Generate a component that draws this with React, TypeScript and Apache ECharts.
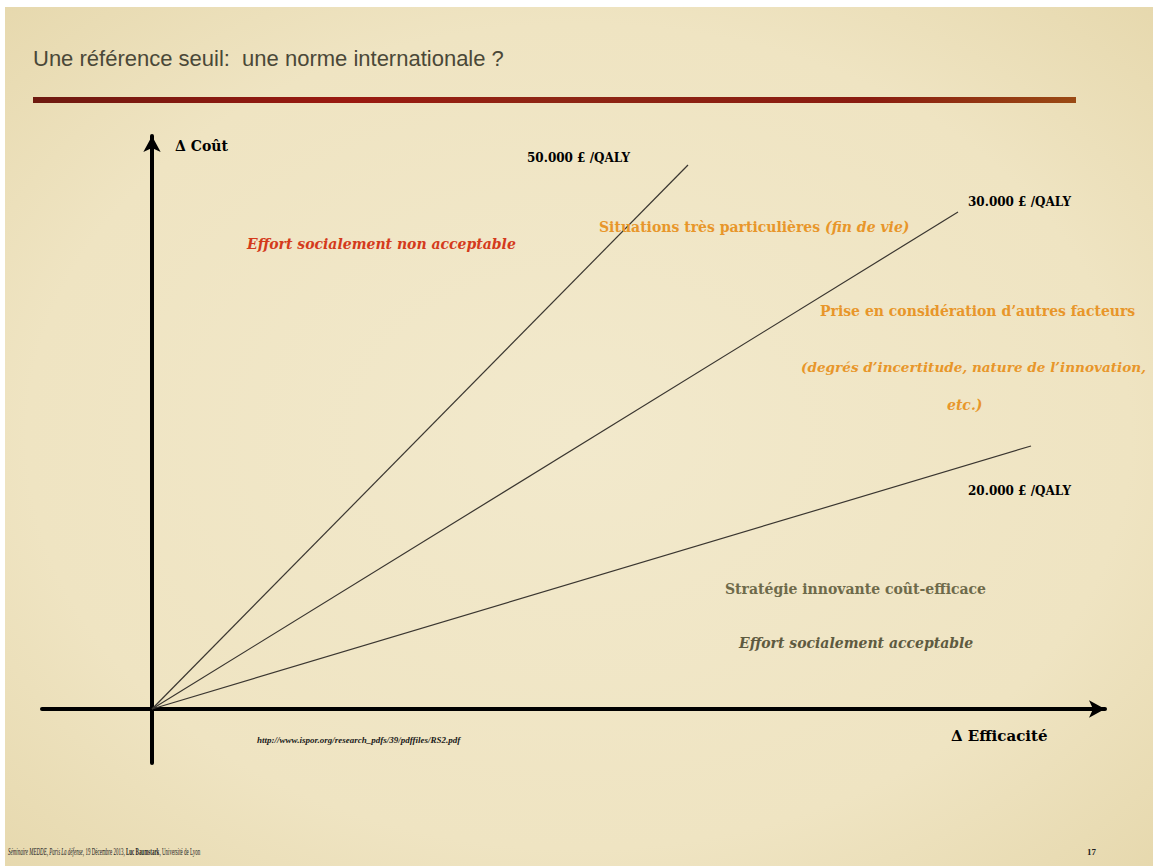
import React, { useEffect, useRef } from "react";
import * as echarts from "echarts";

// Threshold lines: end points in (Δ Efficacité, Δ Coût) units
const thresholdNames = ["50.000 £ /QALY", "30.000 £ /QALY", "20.000 £ /QALY"];
const thresholdEndX = [536, 806, 879];
const thresholdEndY = [544, 497, 263];

// Axis extents
const xRange = [-110, 953];
const yRange = [-54, 573];

const SERIF = "'DejaVu Serif', 'Liberation Serif', serif";
const TIMES = "'Liberation Serif', 'Times New Roman', serif";
const SANS = "'Liberation Sans', Arial, sans-serif";

export default function App() {
  const ref = useRef<HTMLDivElement>(null);
  useEffect(() => {
    if (!ref.current) return;
    const chart = echarts.init(ref.current, null, { renderer: "svg" });

    const series = thresholdNames.map((name, i) => ({
      name,
      type: "line",
      data: [
        [0, 0],
        [thresholdEndX[i], thresholdEndY[i]],
      ],
      symbol: "none",
      lineStyle: { color: "#3a3630", width: 1.2 },
      silent: true,
    }));

    const txt = (x: number, y: number, text: string, opts: any = {}, extra: any = {}) => ({
      type: "text",
      x,
      y,
      silent: true,
      z: 10,
      ...extra,
      style: {
        text,
        fontFamily: SERIF,
        fontSize: 13,
        fontWeight: "bold",
        fill: "#000",
        verticalAlign: "middle",
        ...opts,
      },
    });

    const orange = "#e8962a";
    const BODY = 14;

    const option: any = {
      animation: false,
      backgroundColor: "#ffffff",
      grid: { left: 42, right: 48, top: 136, bottom: 103 },
      xAxis: {
        type: "value",
        min: xRange[0],
        max: xRange[1],
        splitLine: { show: false },
        axisTick: { show: false },
        axisLabel: { show: false },
        axisLine: {
          onZero: true,
          symbol: ["none", "arrow"],
          symbolSize: [13, 16],
          lineStyle: { color: "#000", width: 4 },
        },
      },
      yAxis: {
        type: "value",
        min: yRange[0],
        max: yRange[1],
        splitLine: { show: false },
        axisTick: { show: false },
        axisLabel: { show: false },
        axisLine: {
          onZero: true,
          symbol: ["none", "arrow"],
          symbolSize: [13, 16],
          lineStyle: { color: "#000", width: 4 },
        },
      },
      series,
      graphic: [
        {
          type: "rect",
          z: -10,
          silent: true,
          shape: { x: 5, y: 7, width: 1148, height: 859 },
          style: {
            fill: new echarts.graphic.RadialGradient(0.5, 0.5, 0.8, [
              { offset: 0, color: "#f2e9cc" },
              { offset: 0.6, color: "#efe4c2" },
              { offset: 1, color: "#e3d4a6" },
            ]),
          },
        },
        {
          type: "rect",
          z: -5,
          silent: true,
          shape: { x: 33, y: 97, width: 1043, height: 6 },
          style: {
            fill: new echarts.graphic.LinearGradient(0, 0, 1, 0, [
              { offset: 0, color: "#6e1a10" },
              { offset: 0.3, color: "#9a1a10" },
              { offset: 0.5, color: "#8e2614" },
              { offset: 0.8, color: "#8a1c10" },
              { offset: 1, color: "#9a4a14" },
            ]),
          },
        },
        txt(33, 58, "Une référence seuil:  une norme internationale ?", {
          fontFamily: SANS,
          fontWeight: "normal",
          fontSize: 22,
          fill: "#4a4838",
        }),
        txt(175, 146, "Δ Coût", { fontSize: 14 }),
        txt(527, 158, thresholdNames[0], { fontSize: 12 }),
        txt(968, 202, thresholdNames[1], { fontSize: 12 }),
        txt(968, 491, thresholdNames[2], { fontSize: 12 }),
        txt(951, 736, "Δ Efficacité", { fontSize: 15 }),
        txt(247, 244, "Effort socialement non acceptable", {
          fontSize: BODY,
          fontStyle: "italic",
          fill: "#d43a1c",
        }),
        {
          type: "text",
          x: 599,
          y: 227,
          silent: true,
          z: 10,
          style: {
            text: "{a|Situations très particulières }{b|(fin de vie)}",
            verticalAlign: "middle",
            rich: {
              a: { fontFamily: SERIF, fontSize: BODY, fontWeight: "bold", fill: orange },
              b: { fontFamily: SERIF, fontSize: BODY, fontWeight: "bold", fontStyle: "italic", fill: orange },
            },
          },
        },
        txt(820, 311, "Prise en considération d’autres facteurs", {
          fontSize: BODY,
          fill: orange,
        }),
        txt(801, 367, "(degrés d’incertitude, nature de l’innovation,", {
          fontSize: 13.6,
          fontStyle: "italic",
          fill: orange,
        }),
        txt(947, 405, "etc.)", {
          fontSize: BODY,
          fontStyle: "italic",
          fill: orange,
        }),
        txt(725, 589, "Stratégie innovante coût-efficace", {
          fontSize: BODY,
          fill: "#6e6a4a",
        }),
        txt(739, 643, "Effort socialement acceptable", {
          fontSize: BODY,
          fontStyle: "italic",
          fill: "#5e5a40",
        }),
        txt(
          257,
          740,
          "http://www.ispor.org/research_pdfs/39/pdffiles/RS2.pdf",
          { fontFamily: TIMES, fontSize: 9, fontStyle: "italic", fill: "#1a1a1a" }
        ),
        {
          type: "text",
          x: 8,
          y: 852,
          scaleX: 0.5,
          silent: true,
          z: 10,
          style: {
            text: "{i|Séminaire MEDDE, Paris La défense, }{n|19 Décembre 2013, }{b|Luc Baumstark}{n|, Université de Lyon}",
            verticalAlign: "middle",
            rich: {
              i: { fontFamily: TIMES, fontSize: 10, fontStyle: "italic", fill: "#222" },
              n: { fontFamily: TIMES, fontSize: 10, fill: "#222" },
              b: { fontFamily: TIMES, fontSize: 10, fontWeight: "bold", fill: "#222" },
            },
          },
        },
        txt(1087, 852, "17", { fontFamily: TIMES, fontSize: 9, fill: "#222" }),
      ],
    };

    chart.setOption(option);
    return () => chart.dispose();
  }, []);

  return (
    <div
      ref={ref}
      style={{ position: "absolute", left: 0, top: 0, width: 1153, height: 866 }}
    />
  );
}
